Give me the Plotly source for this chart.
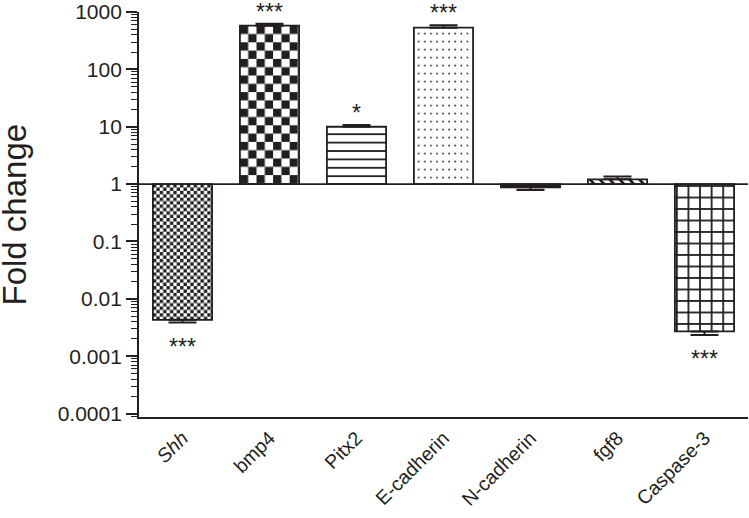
import base64
import math
import plotly.graph_objects as go

# ---------------- data ----------------
genes = ["<i>Shh</i>", "bmp4", "Pitx2", "E-cadherin", "N-cadherin", "fgf8", "Caspase-3"]
fold_change = [0.0043, 577, 10.0, 532, 0.88, 1.21, 0.0027]
sem = [0.00045, 48, 0.7, 54, 0.09, 0.14, 0.00035]
significance = ["***", "***", "*", "***", "", "", "***"]
ytick_vals = [0.0001, 0.001, 0.01, 0.1, 1, 10, 100, 1000]
ytick_text = ["0.0001", "0.001", "0.01", "0.1", "1", "10", "100", "1000"]
y_title = "Fold change"

# ---------------- styling ----------------
W, H = 749, 518
ML, MR, MT, MB = 139, 1, 12, 101
YRANGE = [-4.06, 3.0]
BAR_W = 0.68
INK = "#231f20"
TITLE_X_PX = 14
textures = ["checker_fine", "checker_big", "hlines", "dots", None, "diag", "grid"]
fills = ["rgba(0,0,0,0)"] * 4 + [INK] + ["rgba(0,0,0,0)"] * 2


def texture_defs(kind):
    """SVG <pattern> content (pixel units) for each bar texture."""
    if kind == "checker_fine" or kind == "checker_big":
        s = 3.4 if kind == "checker_fine" else 8.3
        return (f'<pattern id="p" width="{2*s}" height="{2*s}" patternUnits="userSpaceOnUse">'
                f'<rect width="{2*s}" height="{2*s}" fill="white"/>'
                f'<rect width="{s}" height="{s}" fill="{INK}"/>'
                f'<rect x="{s}" y="{s}" width="{s}" height="{s}" fill="{INK}"/></pattern>')
    if kind == "hlines":
        return ('<pattern id="p" width="10" height="8.4" patternUnits="userSpaceOnUse">'
                '<rect width="10" height="8.4" fill="white"/>'
                f'<rect y="6.6" width="10" height="1.8" fill="{INK}"/></pattern>')
    if kind == "dots":
        return ('<pattern id="p" x="2" y="2" width="6.1" height="8.0" patternUnits="userSpaceOnUse">'
                '<rect width="6.1" height="8.0" fill="white"/>'
                f'<rect x="2" y="3" width="1.6" height="1.6" fill="{INK}"/></pattern>')
    if kind == "diag":
        return ('<pattern id="p" width="7" height="7" patternUnits="userSpaceOnUse" '
                'patternTransform="rotate(-45)">'
                '<rect width="7" height="7" fill="white"/>'
                f'<rect width="2.6" height="7" fill="{INK}"/></pattern>')
    if kind == "grid":
        return ('<pattern id="p" x="1" y="1" width="11.6" height="11.5" patternUnits="userSpaceOnUse">'
                '<rect width="11.6" height="11.5" fill="white"/>'
                f'<rect width="1.8" height="11.5" fill="{INK}"/>'
                f'<rect width="11.6" height="1.8" fill="{INK}"/></pattern>')
    return ""


x_idx = list(range(len(genes)))
bar_len = [v - 1 for v in fold_change]
err_plus = [e if v >= 1 else 0 for v, e in zip(fold_change, sem)]
err_minus = [e if v < 1 else 0 for v, e in zip(fold_change, sem)]

fig = go.Figure()
fig.add_trace(go.Bar(
    x=x_idx, y=bar_len, base=[1] * len(genes), width=BAR_W,
    marker=dict(color=fills, line=dict(color=INK, width=1.8)),
    error_y=dict(type="data", symmetric=False, array=err_plus, arrayminus=err_minus,
                 color=INK, thickness=2, width=14),
    showlegend=False, hoverinfo="skip",
))

# bar textures, placed through the data axes under each (transparent) bar
plot_w = W - ML - MR
plot_h = H - MT - MB
px_per_cat = plot_w / len(genes)
px_per_dec = plot_h / (YRANGE[1] - YRANGE[0])
for i, kind in enumerate(textures):
    if kind is None:
        continue
    v = fold_change[i]
    top = max(0.0, math.log10(v))
    bot = min(0.0, math.log10(v))
    wpx = BAR_W * px_per_cat
    hpx = max((top - bot) * px_per_dec, 1.0)
    svg = (
        f'<svg xmlns="http://www.w3.org/2000/svg" width="{wpx:.1f}" height="{hpx:.1f}" '
        f'viewBox="0 0 {wpx:.1f} {hpx:.1f}" preserveAspectRatio="none">'
        f'<defs>{texture_defs(kind)}</defs>'
        f'<rect width="100%" height="100%" fill="url(#p)"/></svg>'
    )
    src = "data:image/svg+xml;base64," + base64.b64encode(svg.encode()).decode()
    fig.add_layout_image(dict(
        source=src, xref="x", yref="y", x=i - BAR_W / 2, y=top,
        sizex=BAR_W, sizey=top - bot, xanchor="left", yanchor="top",
        sizing="stretch", layer="below",
    ))

# baseline at fold change = 1
fig.add_hline(y=1, line=dict(color=INK, width=1.8), layer="above")

# significance stars
for i, (v, e, s) in enumerate(zip(fold_change, sem, significance)):
    if not s:
        continue
    if v >= 1:
        yv, shift = v + e, 12
    else:
        yv, shift = v - e, -24
    fig.add_annotation(x=i, y=math.log10(yv), text=s, showarrow=False,
                       yanchor="middle", yshift=shift,
                       font=dict(size=23, color=INK, family="Liberation Sans, Arial"))

# y-axis title as a rotated annotation in the left margin
fig.add_annotation(
    text=y_title, xref="paper", yref="paper",
    x=-(ML - TITLE_X_PX) / plot_w, y=0.5, xanchor="center", yanchor="middle",
    textangle=-90, showarrow=False, font=dict(size=33, color=INK),
)

fig.update_layout(
    width=W, height=H,
    margin=dict(l=ML, r=MR, t=MT, b=MB, autoexpand=False),
    paper_bgcolor="white", plot_bgcolor="rgba(0,0,0,0)",
    font=dict(family="Liberation Sans, Arial, Helvetica", color=INK, size=20),
    hovermode=False,
)
fig.update_xaxes(
    tickmode="array", tickvals=x_idx, ticktext=genes, tickangle=-45,
    range=[-0.5, len(genes) - 0.5], showline=True, linewidth=2.2, linecolor=INK,
    ticks="", showgrid=False, zeroline=False, automargin=False,
    tickfont=dict(size=19.5, color=INK),
)
fig.update_yaxes(
    type="log", range=YRANGE, tickmode="array", tickvals=ytick_vals, ticktext=ytick_text,
    showline=True, linewidth=1.8, linecolor=INK, ticks="outside", ticklen=11,
    tickwidth=1.6, tickcolor=INK, showgrid=False, zeroline=False, automargin=False,
    tickfont=dict(size=21, color=INK), ticklabelstandoff=0,
    minor=dict(ticks="outside", ticklen=6, tickwidth=1, tickcolor=INK, dtick="D1", showgrid=False),
)

# remove the default 8px page margin so the figure sits at the window origin
fig.write_html("out.html", config={"displayModeBar": False},
               post_script="document.body.style.margin='0px';")
